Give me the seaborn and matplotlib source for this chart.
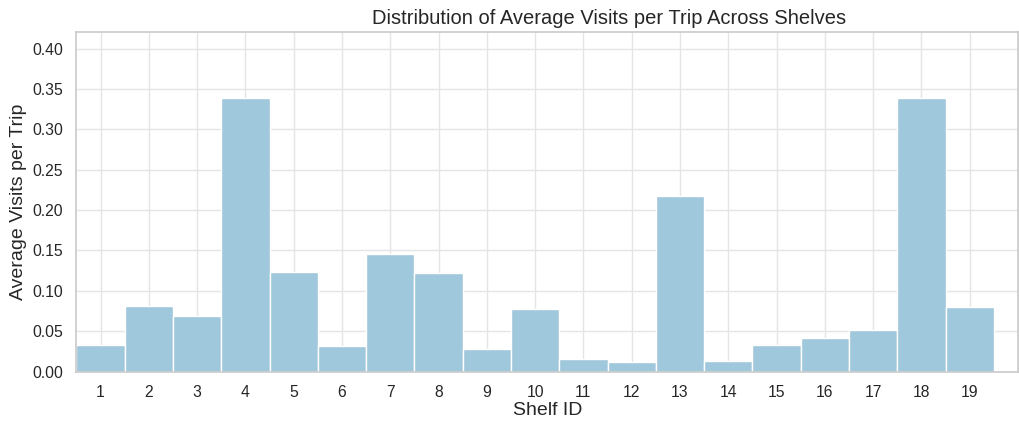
import pandas as pd
import matplotlib
matplotlib.use('Agg')
import matplotlib.pyplot as plt
import seaborn as sns

# ── data ──
shelf_ids = list(range(1, 20))
avg_visits = [0.033, 0.081, 0.069, 0.339, 0.123, 0.032, 0.145, 0.122, 0.028, 0.077,
              0.015, 0.012, 0.218, 0.013, 0.033, 0.041, 0.051, 0.339, 0.080]

df = pd.DataFrame({'Shelf ID': shelf_ids, 'Average Visits per Trip': avg_visits})

sns.set_theme(style='whitegrid')
plt.rcParams['font.family'] = ['Liberation Sans', 'DejaVu Sans']

fig, ax = plt.subplots(figsize=(10.19, 4.32), dpi=100)
sns.barplot(data=df, x='Shelf ID', y='Average Visits per Trip', color='#a0c8dc',
            saturation=1, width=1, edgecolor='white', linewidth=1, ax=ax)
ax.set_xlim(-0.5, 19.0)
ax.set_ylim(0, 0.42)
ax.set_yticks([0, 0.05, 0.10, 0.15, 0.20, 0.25, 0.30, 0.35, 0.40])
ax.set_yticklabels([f'{v:.2f}' for v in ax.get_yticks()])
ax.set_title('Distribution of Average Visits per Trip Across Shelves', fontsize=14.5, x=0.566)
ax.set_xlabel('Shelf ID', fontsize=14, labelpad=2)
ax.set_ylabel('Average Visits per Trip', fontsize=14)
ax.tick_params(labelsize=11.3)
ax.grid(True, color='#e5e5e5')
ax.set_axisbelow(True)
for s in ax.spines.values():
    s.set_color('#cccccc')

plt.subplots_adjust(left=0.075, right=0.999, top=0.925, bottom=0.14)
plt.savefig('out.png')
